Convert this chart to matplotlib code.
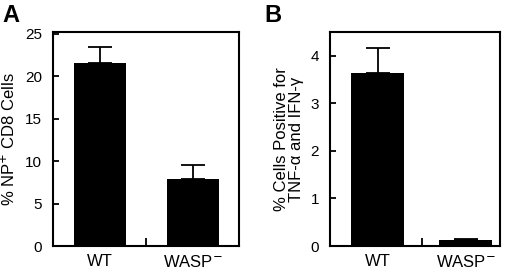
import matplotlib
matplotlib.use("Agg")
import matplotlib.pyplot as plt
from matplotlib.ticker import FixedLocator

plt.rcParams["font.family"] = ["Liberation Sans", "DejaVu Sans"]

groups = ["WT", "WASP$^{-}$"]

np_cd8 = [21.6, 7.9]
np_cd8_err = [1.8, 1.7]

cytokine_pos = [3.63, 0.12]
cytokine_err = [0.53, 0.02]


def panel(ax, values, errors, ylim, yticks, ylabel, xlim, width):
    x = range(len(values))
    ax.bar(x, values, width=width, color="black", zorder=2)
    ax.errorbar(x, values, yerr=[[0] * len(errors), errors], fmt="none",
                ecolor="black", elinewidth=1.3, capsize=8.5, capthick=1.3, zorder=1)
    ax.set_xlim(*xlim)
    ax.set_ylim(*ylim)
    ax.set_yticks(yticks)
    ax.set_xticks(list(x))
    ax.set_xticklabels(groups, fontsize=12)
    ax.xaxis.set_minor_locator(FixedLocator([0.5]))
    ax.tick_params(axis="x", which="major", length=0, pad=6)
    ax.tick_params(axis="x", which="minor", direction="in", length=6, width=1.3)
    ax.tick_params(axis="y", direction="in", length=4, width=1.3, labelsize=11, pad=8)
    ax.set_ylabel(ylabel, fontsize=12, labelpad=5, linespacing=1.0)
    for s in ax.spines.values():
        s.set_linewidth(1.5)


fig = plt.figure(figsize=(5.2, 2.74), dpi=100)

ax_a = fig.add_axes([0.102, 0.102, 0.358, 0.781])
panel(ax_a, np_cd8, np_cd8_err, (0, 25.2), [0, 5, 10, 15, 20, 25],
      "% NP$^{+}$ CD8 Cells", (-0.5, 1.5), 0.56)

ax_b = fig.add_axes([0.635, 0.102, 0.327, 0.781])
panel(ax_b, cytokine_pos, cytokine_err, (0, 4.5), [0, 1, 2, 3, 4],
      "% Cells Positive for\nTNF-\u03b1 and IFN-\u03b3", (-0.54, 1.39), 0.6)

fig.text(0.004, 0.985, "A", fontsize=17, fontweight="bold", va="top")
fig.text(0.508, 0.985, "B", fontsize=17, fontweight="bold", va="top")

fig.savefig("out.png", dpi=100)
